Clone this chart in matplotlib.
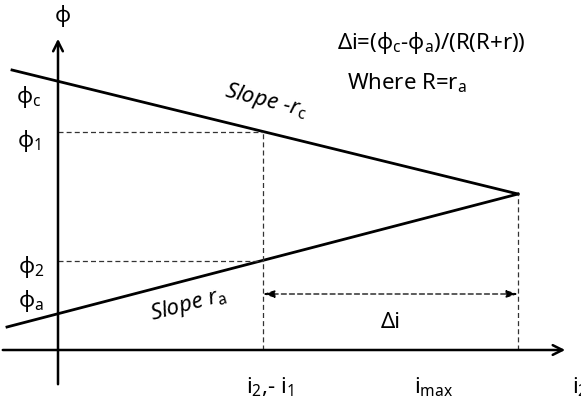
import matplotlib.pyplot as plt

plt.rcParams['font.family'] = ['Noto Sans', 'DejaVu Sans']
plt.rcParams['mathtext.fontset'] = 'custom'
plt.rcParams['mathtext.rm'] = 'Noto Sans'
plt.rcParams['mathtext.it'] = 'Noto Sans:italic'
plt.rcParams['mathtext.fallback'] = 'stixsans'

# Diagram coordinates: origin where the axes cross, units roughly in pixels
cathode_line_x = [-46, 460]
cathode_line_y = [280, 156]
anode_line_x = [-51, 460]
anode_line_y = [23, 156]
i1 = 205
i_max = 460
phi1 = 218
phi2 = 89
delta_i_y = 56

fig = plt.figure(figsize=(5.81, 4.02), dpi=100)
ax = fig.add_axes([0, 0, 1, 1])
ax.set_xlim(-58, 523)
ax.set_ylim(-51, 351)
ax.axis('off')

# axes with open arrowheads
arrow_kw = dict(arrowstyle='->,head_length=0.7,head_width=0.35', lw=1.8, color='black')
ax.annotate('', xy=(0, 314), xytext=(0, -37), arrowprops=arrow_kw)
ax.annotate('', xy=(510, 0), xytext=(-58, 0), arrowprops=arrow_kw)

# polarisation lines
ax.plot(cathode_line_x, cathode_line_y, color='black', lw=2)
ax.plot(anode_line_x, anode_line_y, color='black', lw=2)

# guide lines
dash_kw = dict(color='#333333', lw=0.9, ls=(0, (4, 2.5)))
ax.plot([0, i1], [phi1, phi1], **dash_kw)
ax.plot([0, i1], [phi2, phi2], **dash_kw)
ax.plot([i1, i1], [0, phi1], **dash_kw)
ax.plot([i_max, i_max], [0, cathode_line_y[1]], **dash_kw)

ax.annotate('', xy=(i_max, delta_i_y), xytext=(i1, delta_i_y),
            arrowprops=dict(arrowstyle='<|-|>,head_length=0.7,head_width=0.22',
                            lw=0.9, ls=(0, (4, 2.5)), color='black',
                            shrinkA=0, shrinkB=0))
ax.text((i1 + i_max) / 2, 28, 'Δi', fontsize=16, ha='center', va='center')

fs = 16
ax.text(5, 335, 'ϕ', fontsize=fs, ha='center', va='center')
ax.text(-29, 254, r'$\mathregular{ϕ_c}$', fontsize=fs, ha='center', va='center')
ax.text(-29, 210, r'$\mathregular{ϕ_1}$', fontsize=fs, ha='center', va='center')
ax.text(-27, 84, r'$\mathregular{ϕ_2}$', fontsize=fs, ha='center', va='center')
ax.text(-27, 50, r'$\mathregular{ϕ_a}$', fontsize=fs, ha='center', va='center')

ax.text(212, -36, r'$\mathregular{i_2}$,- $\mathregular{i_1}$', fontsize=fs, ha='center', va='center')
ax.text(376, -36, r'$\mathregular{i_{max}}$', fontsize=fs, ha='center', va='center')
ax.text(522, -36, r'$\mathregular{i_2}$', fontsize=fs, ha='center', va='center')

ax.text(208, 250, r'Slope -$\mathit{r}_\mathrm{c}$', fontsize=fs, style='italic',
        ha='center', va='center', rotation=-14, rotation_mode='anchor')
ax.text(130, 46, r'Slope $\mathit{r}_\mathrm{a}$', fontsize=fs, style='italic',
        ha='center', va='center', rotation=15, rotation_mode='anchor')

ax.text(279, 308, r'Δi=($\mathregular{ϕ_c}$-$\mathregular{ϕ_a}$)/(R(R+r))', fontsize=fs,
        ha='left', va='center')
ax.text(289, 268, r'Where R=$\mathregular{r_a}$', fontsize=fs, ha='left', va='center')

fig.savefig('out.png', dpi=100)
